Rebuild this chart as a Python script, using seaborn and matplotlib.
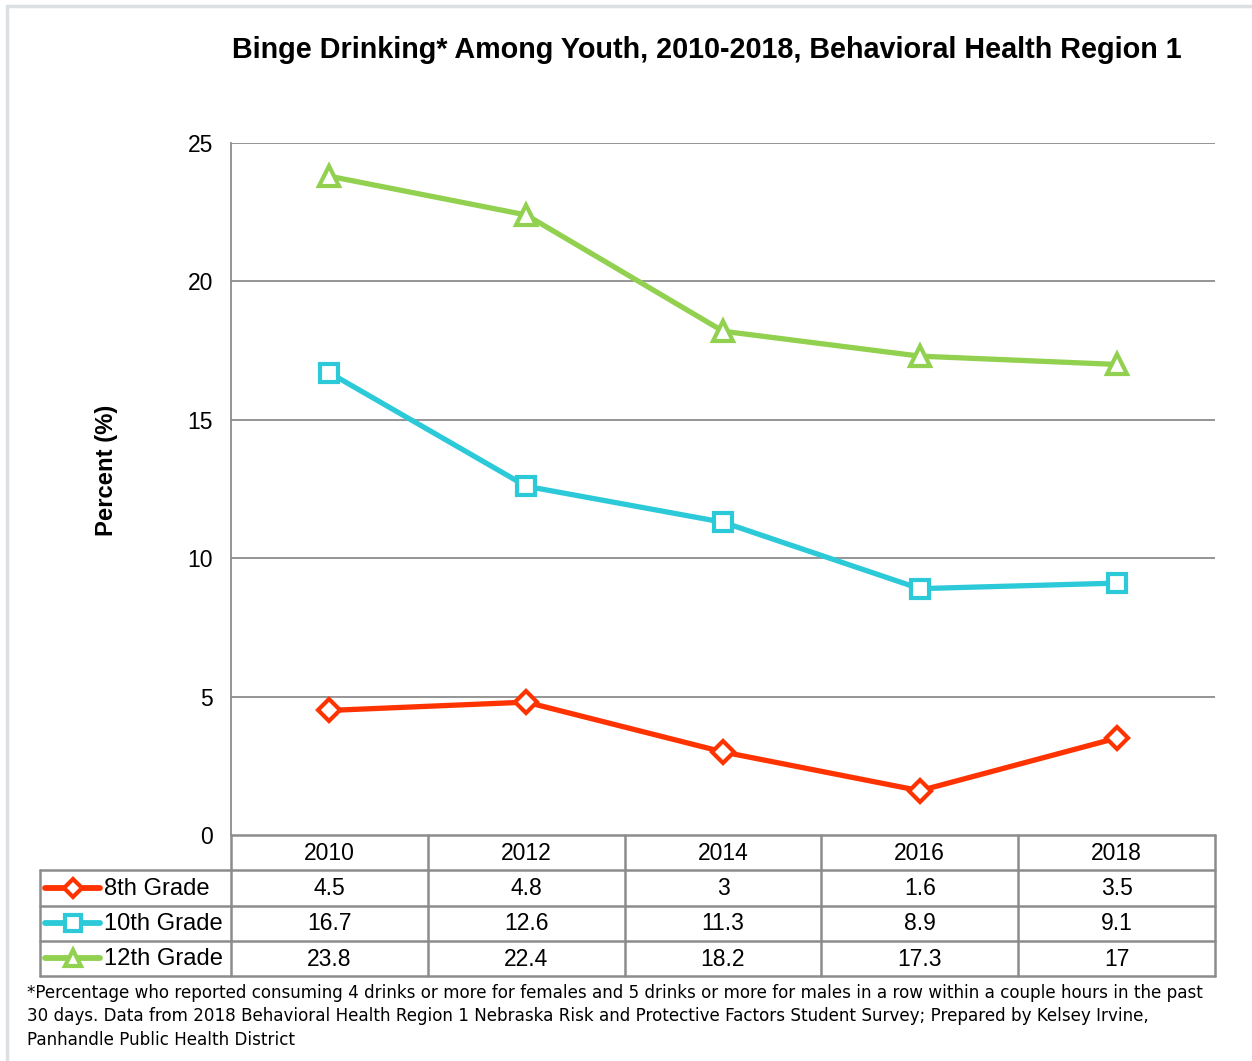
import matplotlib
matplotlib.use("Agg")
import matplotlib.pyplot as plt
from matplotlib.lines import Line2D
import seaborn as sns
import pandas as pd

years = ["2010", "2012", "2014", "2016", "2018"]
grade_8 = [4.5, 4.8, 3, 1.6, 3.5]
grade_10 = [16.7, 12.6, 11.3, 8.9, 9.1]
grade_12 = [23.8, 22.4, 18.2, 17.3, 17]
series_names = ["8th Grade", "10th Grade", "12th Grade"]
series_values = [grade_8, grade_10, grade_12]
series_colors = ["#FF3300", "#2CCAD8", "#92D050"]
series_markers = ["D", "s", "^"]
marker_sizes = [11, 13, 14]
y_ticks = [0, 5, 10, 15, 20, 25]

title = "Binge Drinking* Among Youth, 2010-2018, Behavioral Health Region 1"
y_label = "Percent (%)"
footnote = ("*Percentage who reported consuming 4 drinks or more for females and 5 drinks or more for males in a row within a couple hours in the past\n"
            "30 days. Data from 2018 Behavioral Health Region 1 Nebraska Risk and Protective Factors Student Survey; Prepared by Kelsey Irvine,\n"
            "Panhandle Public Health District")

sns.set_theme(style="white")
plt.rcParams["font.family"] = ["Liberation Sans", "DejaVu Sans"]
plt.rcParams["text.color"] = "black"
plt.rcParams["axes.labelcolor"] = "black"
plt.rcParams["ytick.color"] = "black"

W, H = 1252, 1061
fig = plt.figure(figsize=(W / 100, H / 100), dpi=100)
fig.patch.set_facecolor("white")

def box(x0, y0, x1, y1):
    return [x0 / W, 1 - y1 / H, (x1 - x0) / W, (y1 - y0) / H]

# outer chart frame
fig.add_artist(Line2D([7 / W, 7 / W], [0, 1 - 6 / H], transform=fig.transFigure,
                      color="#DDE0E3", lw=2.5))
fig.add_artist(Line2D([7 / W, 1], [1 - 6 / H, 1 - 6 / H], transform=fig.transFigure,
                      color="#DDE0E3", lw=2.5))

# main line chart
ax = fig.add_axes(box(231, 143, 1215, 835))
rows = []
for name, vals in zip(series_names, series_values):
    for i, v in enumerate(vals):
        rows.append({"pos": i, "value": v, "series": name})
df = pd.DataFrame(rows)
for name, color, mk, ms in zip(series_names, series_colors, series_markers, marker_sizes):
    sub = df[df["series"] == name]
    sns.lineplot(data=sub, x="pos", y="value", ax=ax, color=color, lw=3.8,
                 marker=mk, markersize=ms, markerfacecolor="white",
                 markeredgecolor=color, markeredgewidth=3, legend=False, zorder=3)

ax.set_xlim(-0.5, len(years) - 0.5)
ax.set_ylim(0, 25)
ax.set_yticks(y_ticks)
ax.set_yticklabels([str(t) for t in y_ticks], fontsize=16.5, color="black")
ax.tick_params(axis="y", length=0, pad=13)
ax.set_xticks([])
ax.set_xlabel("")
ax.set_ylabel("")
for t in y_ticks[1:]:
    ax.axhline(t, color="#8C8C8C", lw=1.3, zorder=1)
for s in ["top", "right", "bottom"]:
    ax.spines[s].set_visible(False)
ax.spines["left"].set_color("#8C8C8C")
ax.spines["left"].set_linewidth(1.3)

fig.text(106 / W, 1 - 470 / H, y_label, ha="center", va="center", rotation=90,
         fontsize=17.2, fontweight="bold", color="black")

fig.text(707 / W, 1 - 50 / H, title, ha="center", va="center",
         fontsize=20.7, fontweight="bold", color="black")

# data table under the plot
tx0, tx1 = 40, 1215
tax = fig.add_axes(box(tx0, 835, tx1, 976))
unit = (1215 - 231) / len(years)
left_lim = -0.5 - (231 - tx0) / unit
tax.set_xlim(left_lim, len(years) - 0.5)
tax.set_ylim(4, 0)
tax.axis("off")
grid_c = "#8C8C8C"
lw = 1.8
tax.plot([-0.5, len(years) - 0.5], [0, 0], color=grid_c, lw=lw, clip_on=False)
for r in [1, 2, 3, 4]:
    tax.plot([left_lim, len(years) - 0.5], [r, r], color=grid_c, lw=lw, clip_on=False)
tax.plot([left_lim, left_lim], [1, 4], color=grid_c, lw=lw, clip_on=False)
for c in range(len(years) + 1):
    tax.plot([c - 0.5, c - 0.5], [0, 4], color=grid_c, lw=lw, clip_on=False)

cell_fs = 16.5
for i, yr in enumerate(years):
    tax.text(i, 0.52, yr, ha="center", va="center", fontsize=cell_fs)
for r, (name, vals, color, mk, ms) in enumerate(zip(series_names, series_values,
                                                      series_colors, series_markers,
                                                      [9, 11, 12]), start=1):
    for i, v in enumerate(vals):
        tax.text(i, r + 0.52, f"{v:g}", ha="center", va="center", fontsize=cell_fs)
    lx0 = left_lim + (45 - tx0) / unit
    lx1 = left_lim + (100 - tx0) / unit
    tax.plot([lx0, lx1], [r + 0.5, r + 0.5], color=color, lw=4.2,
             solid_capstyle="round", clip_on=False)
    tax.plot([(lx0 + lx1) / 2], [r + 0.5], marker=mk, markersize=ms,
             markerfacecolor="white", markeredgecolor=color, markeredgewidth=3,
             clip_on=False)
    tax.text(left_lim + (104 - tx0) / unit, r + 0.52, name, ha="left", va="center",
             fontsize=17.1)

fig.text(27 / W, 1 - 984 / H, footnote, ha="left", va="top", fontsize=12.1,
         linespacing=1.38, family=["DejaVu Sans"], color="black")

fig.savefig("out.png", dpi=100, facecolor="white")
